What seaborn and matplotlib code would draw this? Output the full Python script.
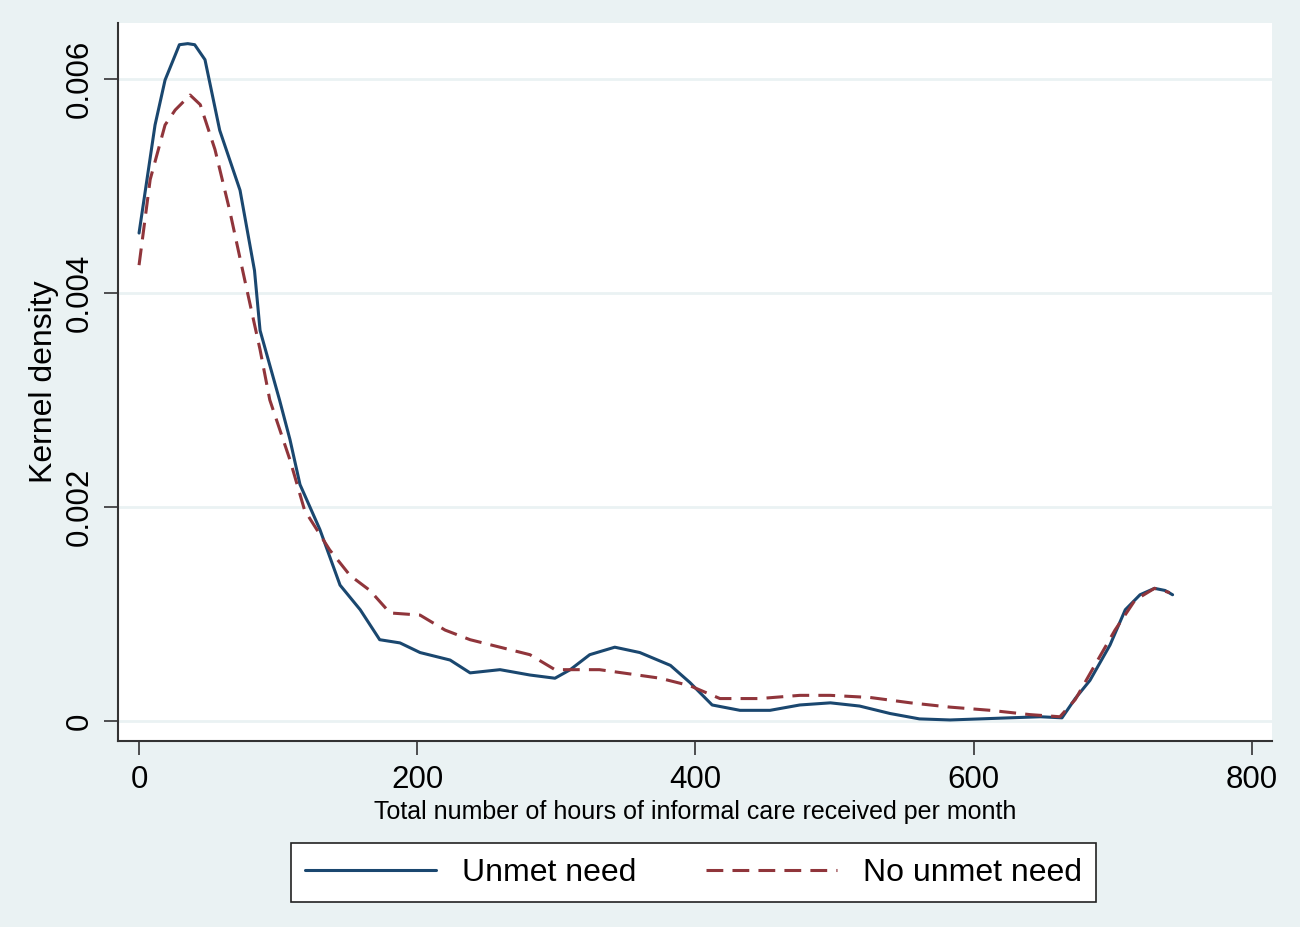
import numpy as np
import pandas as pd
import matplotlib
matplotlib.use("Agg")
import matplotlib.pyplot as plt
import seaborn as sns

# hours of informal care per month vs kernel density
unmet_hours = [0, 11.5, 18.7, 25.9, 29, 35, 40, 47.4, 58, 72.6, 83, 87, 101, 108.5, 115.7,
               130, 144.5, 159, 173, 187.6, 202, 223.6, 238, 259.5, 281, 299, 310, 324,
               342, 360, 382, 396, 412, 432, 453.6, 475, 497, 518, 540, 561, 583, 604.6,
               626, 648, 663.5, 673, 683.6, 698, 709, 719.6, 730, 737.6, 743]
unmet_density = [0.00456, 0.00557, 0.00599, 0.00622, 0.00632, 0.00633, 0.00632, 0.00618,
                 0.00552, 0.00496, 0.00421, 0.00365, 0.00300, 0.00263, 0.00221, 0.00179,
                 0.00127, 0.00104, 0.00076, 0.00073, 0.00064, 0.00057, 0.00045, 0.00048,
                 0.00043, 0.00040, 0.00048, 0.00062, 0.00069, 0.00064, 0.00052, 0.00036,
                 0.00015, 0.00010, 0.00010, 0.00015, 0.00017, 0.00014, 0.00007, 0.00002,
                 0.00001, 0.00002, 0.00003, 0.00004, 0.00003, 0.00021, 0.00038, 0.00071,
                 0.00104, 0.00118, 0.00124, 0.00122, 0.00118]

no_unmet_hours = [0, 8, 18.7, 26, 36.7, 44, 54.6, 65, 76, 87, 94, 108.5, 119, 137, 151.7,
                  166, 180.4, 202, 220, 238, 259.5, 281, 299, 310, 331, 353, 374.6, 396,
                  417.6, 446, 475, 497, 525.6, 554.6, 583, 612, 640.5, 662, 673, 687,
                  701.6, 716, 730, 741]
no_unmet_density = [0.00426, 0.00506, 0.00557, 0.00571, 0.00585, 0.00576, 0.00534, 0.00478,
                    0.00412, 0.00347, 0.00300, 0.00244, 0.00197, 0.00160, 0.00136, 0.00122,
                    0.00101, 0.00099, 0.00085, 0.00076, 0.00069, 0.00062, 0.00048, 0.00048,
                    0.00048, 0.00044, 0.00040, 0.00033, 0.00021, 0.00021, 0.00024, 0.00024,
                    0.00022, 0.00017, 0.00013, 0.00010, 0.00006, 0.00004, 0.00020, 0.00052,
                    0.00085, 0.00113, 0.00124, 0.00120]

x_ticks = [0, 200, 400, 600, 800]
y_ticks = [0, 0.002, 0.004, 0.006]
y_tick_labels = ["0", "0.002", "0.004", "0.006"]

df_unmet = pd.DataFrame({"hours": unmet_hours, "density": unmet_density})
df_no = pd.DataFrame({"hours": no_unmet_hours, "density": no_unmet_density})

sns.set_style("white")
plt.rcParams["font.family"] = ["Liberation Sans", "DejaVu Sans"]
plt.rcParams["text.color"] = "black"
plt.rcParams["axes.labelcolor"] = "black"
plt.rcParams["xtick.color"] = "black"
plt.rcParams["ytick.color"] = "black"

bg = "#eaf2f3"
fig = plt.figure(figsize=(13, 9.27), dpi=100, facecolor=bg)
ax = fig.add_axes([0.0908, 0.2006, 0.8877, 0.7746])
ax.set_facecolor("white")

sns.lineplot(data=df_unmet, x="hours", y="density", ax=ax, color="#1a476f",
             linewidth=2.2, label="Unmet need")
sns.lineplot(data=df_no, x="hours", y="density", ax=ax, color="#90353b",
             linewidth=2.2, label="No unmet need")
ax.lines[1].set_dashes([5.5, 3])

ax.set_xlim(-15.1, 814.5)
ax.set_ylim(-0.000187, 0.006523)
ax.set_xticks(x_ticks)
ax.set_yticks(y_ticks)
ax.set_yticklabels(y_tick_labels, rotation=90, va="center")
ax.tick_params(axis="both", labelsize=22.5, length=10, width=1.2, color="#333333",
               labelcolor="black", direction="out", left=True, bottom=True, pad=7)

ax.grid(axis="y", color=bg, linewidth=2)
ax.grid(axis="x", visible=False)
for s in ["top", "right"]:
    ax.spines[s].set_visible(False)
for s in ["left", "bottom"]:
    ax.spines[s].set_color("#333333")
    ax.spines[s].set_linewidth(1.5)

ax.set_xlabel("Total number of hours of informal care received per month", fontsize=18,
              labelpad=4, color="black")
ax.set_ylabel("Kernel density", fontsize=23, labelpad=4, color="black")

ax.get_legend().remove()
handles, labels = ax.get_legend_handles_labels()
leg = fig.legend(handles, labels, loc="center", bbox_to_anchor=(0.5335, 0.0585), ncol=2,
                 fontsize=23, handlelength=4.1, handletextpad=0.8, columnspacing=2.2,
                 frameon=True, fancybox=False, borderpad=0.45, borderaxespad=0)
leg.get_frame().set_edgecolor("#222222")
leg.get_frame().set_linewidth(1.2)
leg.get_frame().set_facecolor("white")
leg.get_frame().set_alpha(1)
for t in leg.get_texts():
    t.set_color("black")

fig.savefig("out.png", dpi=100, facecolor=bg)
